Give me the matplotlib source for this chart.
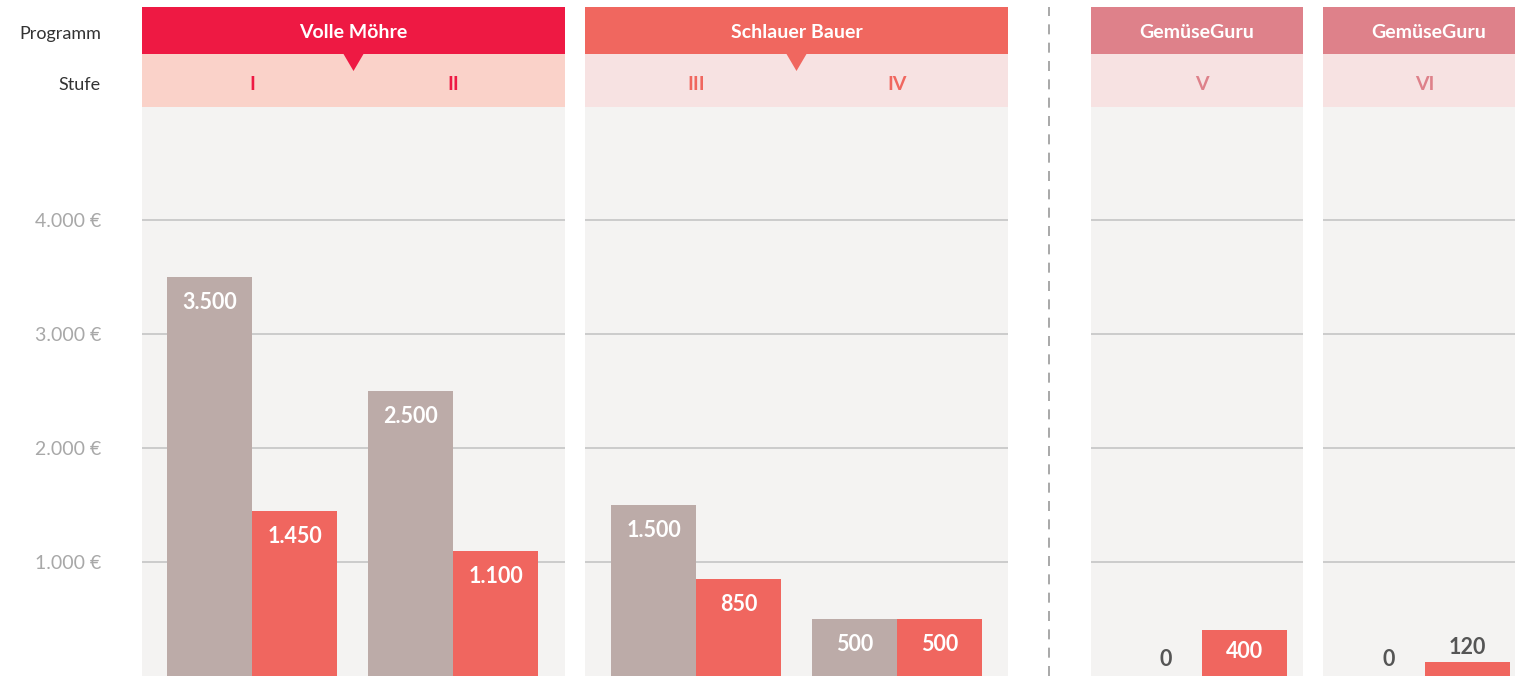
import numpy as np
import matplotlib
matplotlib.use("Agg")
import matplotlib.pyplot as plt
from matplotlib.patches import Rectangle, Polygon
from matplotlib.lines import Line2D
from matplotlib.ticker import FuncFormatter

plt.rcParams['font.family'] = ['Lato', 'DejaVu Sans']

# data
programs   = ["Volle Möhre", "Schlauer Bauer", "GemüseGuru", "GemüseGuru"]
stages     = [["I", "II"], ["III", "IV"], ["V"], ["VI"]]
gray_vals  = [[3500, 2500], [1500, 500], [0], [0]]
red_vals   = [[1450, 1100], [850, 500], [400], [120]]
yticks     = [1000, 2000, 3000, 4000]

# colours
prog_colors  = ['#EE1943', '#F0675F', '#DE818A', '#DE818A']
stage_bg     = ['#FAD2C9', '#F7E2E2', '#F7E2E2', '#F7E2E2']
panel_bg     = '#F4F3F2'
gray_bar     = '#BCABA8'
red_bar      = '#F0665F'
grid_col     = '#C8C8C8'
dark_txt     = '#555555'

# layout in pixels
W, H = 1515, 676
panel_left   = [142, 585, 1091, 1323]
panel_width  = [423, 423, 212, 212]
first_center = [110, 111, 111, 102]
step, bar_w  = 201, 85
plot_top     = 107            # px from top
hdr_top      = 7
ymax = (H - plot_top) / 114 * 1000

fig = plt.figure(figsize=(W / 100, H / 100), dpi=100)
fig.patch.set_facecolor('white')

def fx(px):
    return px / W

def fy(py):
    return (H - py) / H

for p in range(len(programs)):
    l, w = panel_left[p], panel_width[p]
    ax = fig.add_axes([fx(l), 0, fx(w), fy(plot_top)])
    ax.set_facecolor(panel_bg)
    ax.set_xlim(0, w)
    ax.set_ylim(0, ymax)
    for s in ax.spines.values():
        s.set_visible(False)
    ax.set_yticks(yticks)
    ax.yaxis.grid(True, color=grid_col, linewidth=1.3)
    ax.set_axisbelow(True)
    ax.set_xticks([])
    ax.tick_params(axis='y', length=0, pad=29.5, labelsize=14, labelcolor='#A8A8A8')
    if p == 0:
        ax.yaxis.set_major_formatter(FuncFormatter(lambda v, _: f"{int(v):,} €".replace(",", ".")))
    else:
        ax.set_yticklabels([])

    centers = [first_center[p] + i * step for i in range(len(stages[p]))]
    for c, gv, rv in zip(centers, gray_vals[p], red_vals[p]):
        for x, v, col in [(c - bar_w / 2, gv, gray_bar), (c + bar_w / 2, rv, red_bar)]:
            ax.bar(x, v, width=bar_w, color=col, zorder=2)
            lbl = f"{v:,}".replace(",", ".")
            if v >= 300:
                off = -18.5 if v >= 500 else -15
                ax.annotate(lbl, (x, v), xytext=(0, off), textcoords='offset points',
                            ha='center', va='center', color='white', fontsize=15.5,
                            fontweight='bold', zorder=3)
            elif v > 0:
                ax.annotate(lbl, (x, v), xytext=(0, 11), textcoords='offset points',
                            ha='center', va='center', color=dark_txt, fontsize=15.5,
                            fontweight='bold', zorder=3)
            else:
                ax.annotate(lbl, (x + 6, v), xytext=(0, 12), textcoords='offset points',
                            ha='center', va='center', color=dark_txt, fontsize=15.5,
                            fontweight='bold', zorder=3)

    # header block
    hdr = fig.add_axes([fx(l), fy(plot_top), fx(w), (plot_top - hdr_top) / H], sharex=ax)
    hdr.set_ylim(0, 1)
    hdr.axis('off')
    split = 53 / 100
    hdr.add_patch(Rectangle((0, split), 1, 1 - split, transform=hdr.transAxes,
                            color=prog_colors[p], lw=0))
    hdr.add_patch(Rectangle((0, 0), 1, split, transform=hdr.transAxes,
                            color=stage_bg[p], lw=0))
    hdr.text(0.5, (1 + split) / 2 - 0.02, programs[p], transform=hdr.transAxes, ha='center',
             va='center', color='white', fontsize=14, fontweight='bold')
    for c, st in zip(centers, stages[p]):
        hdr.text(c, split / 2 - 0.04, st, transform=hdr.get_xaxis_transform(), ha='center',
                 va='center', color=prog_colors[p], fontsize=14, fontweight='bold')
    if len(stages[p]) > 1:
        hw = 10 / w
        hdr.add_patch(Polygon([(0.5 - hw, split), (0.5 + hw, split), (0.5, split - 0.17)],
                              closed=True, transform=hdr.transAxes,
                              color=prog_colors[p], lw=0, clip_on=False))
    if p == 0:
        xo = (101 - l) / w
        hdr.text(xo, (1 + split) / 2 - 0.03, "Programm", transform=hdr.transAxes, ha='right',
                 va='center', color='#333333', fontsize=13)
        hdr.text(xo, split / 2 - 0.04, "Stufe", transform=hdr.transAxes, ha='right',
                 va='center', color='#333333', fontsize=13)

# separator between programme groups
fig.add_artist(Line2D([fx(1049), fx(1049)], [0, fy(hdr_top)], transform=fig.transFigure,
                      color='#9A9A9A', linewidth=1.2, linestyle=(0, (6, 5))))

fig.savefig("out.png", dpi=100)
